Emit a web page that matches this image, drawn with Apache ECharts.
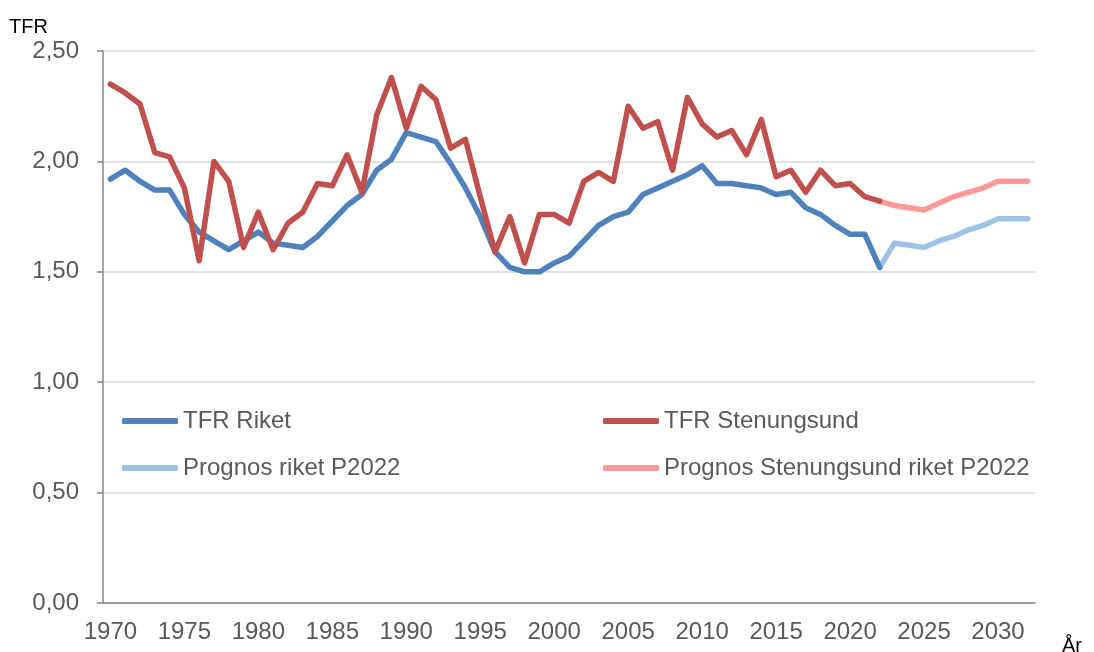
<!DOCTYPE html>
<html>
<head>
<meta charset="utf-8">
<title>TFR</title>
<script src="https://cdn.jsdelivr.net/npm/echarts@6/dist/echarts.min.js"></script>
<style>
  html, body { margin: 0; padding: 0; background: #fff; }
  #chart { width: 1094px; height: 652px; }
</style>
</head>
<body>
<div id="chart"></div>
<script>
const years = []
for (let y = 1970; y <= 2032; y++) years.push(String(y))

// 1970 - 2022
const riket = [
  1.92, 1.96, 1.91, 1.87, 1.87, 1.76, 1.68, 1.64, 1.60, 1.64,
  1.68, 1.63, 1.62, 1.61, 1.66, 1.73, 1.80, 1.85, 1.96, 2.01,
  2.13, 2.11, 2.09, 1.99, 1.88, 1.75, 1.59, 1.52, 1.50, 1.50,
  1.54, 1.57, 1.64, 1.71, 1.75, 1.77, 1.85, 1.88, 1.91, 1.94,
  1.98, 1.90, 1.90, 1.89, 1.88, 1.85, 1.86, 1.79, 1.76, 1.71,
  1.67, 1.67, 1.52
]
const stenungsund = [
  2.35, 2.31, 2.26, 2.04, 2.02, 1.88, 1.55, 2.00, 1.91, 1.61,
  1.77, 1.60, 1.72, 1.77, 1.90, 1.89, 2.03, 1.86, 2.21, 2.38,
  2.15, 2.34, 2.28, 2.06, 2.10, 1.84, 1.59, 1.75, 1.54, 1.76,
  1.76, 1.72, 1.91, 1.95, 1.91, 2.25, 2.15, 2.18, 1.96, 2.29,
  2.17, 2.11, 2.14, 2.03, 2.19, 1.93, 1.96, 1.86, 1.96, 1.89,
  1.90, 1.84, 1.82
]
// 2022 - 2032
const prognosRiket = [1.52, 1.63, 1.62, 1.61, 1.64, 1.66, 1.69, 1.71, 1.74, 1.74, 1.74]
const prognosStenungsund = [1.82, 1.80, 1.79, 1.78, 1.81, 1.84, 1.86, 1.88, 1.91, 1.91, 1.91]

const yTicks = [0, 0.5, 1, 1.5, 2, 2.5]

const pad = (arr, before, total) => {
  const out = new Array(before).fill(null).concat(arr)
  while (out.length < total) out.push(null)
  return out
}

const n = years.length
const series = [
  {name: 'TFR Riket', color: '#4F81BD', data: pad(riket, 0, n)},
  {name: 'TFR Stenungsund', color: '#C0504D', data: pad(stenungsund, 0, n)},
  {name: 'Prognos riket P2022', color: '#9DC3E6', data: pad(prognosRiket, 52, n)},
  {name: 'Prognos Stenungsund riket P2022', color: '#FF9999', data: pad(prognosStenungsund, 52, n)}
].map(s => ({
  name: s.name,
  type: 'line',
  data: s.data,
  symbol: 'none',
  color: s.color,
  lineStyle: {width: 5.5, color: s.color, cap: 'round', join: 'round'},
  z: s.name.startsWith('Prognos') ? 2 : 3
}))

const font = '"Liberation Sans", Arial, sans-serif'
const legendBase = {
  orient: 'vertical',
  top: 404,
  itemWidth: 56,
  itemHeight: 6,
  itemGap: 23,
  icon: 'roundRect',
  textStyle: {fontFamily: font, fontSize: 24, color: '#595959', lineHeight: 24}
}

const chart = echarts.init(document.getElementById('chart'))
chart.setOption({
  animation: false,
  textStyle: {fontFamily: font},
  grid: {left: 103, right: 59, top: 51, bottom: 49, containLabel: false},
  legend: [
    Object.assign({}, legendBase, {left: 117, data: ['TFR Riket', 'Prognos riket P2022']}),
    Object.assign({}, legendBase, {left: 598, data: ['TFR Stenungsund', 'Prognos Stenungsund riket P2022']})
  ],
  graphic: [
    {type: 'text', left: 9, top: 17, style: {text: 'TFR', fontFamily: font, fontSize: 20, fill: '#000'}},
    {type: 'text', left: 1062, top: 636, style: {text: 'År', fontFamily: font, fontSize: 20, fill: '#000'}}
  ],
  xAxis: {
    type: 'category',
    data: years,
    boundaryGap: true,
    axisLine: {lineStyle: {color: '#868686', width: 1.5}},
    axisTick: {interval: 4, length: 6, lineStyle: {color: '#868686', width: 1.5}},
    axisLabel: {interval: 4, fontSize: 24, color: '#595959', margin: 17, fontFamily: font},
    splitLine: {show: false}
  },
  yAxis: {
    type: 'value',
    min: yTicks[0],
    max: yTicks[yTicks.length - 1],
    interval: 0.5,
    axisLine: {show: true, lineStyle: {color: '#868686', width: 1.5}},
    axisTick: {show: true, length: 6, lineStyle: {color: '#868686', width: 1.5}},
    axisLabel: {
      fontSize: 24, color: '#595959', margin: 24, fontFamily: font,
      formatter: v => v.toFixed(2).replace('.', ',')
    },
    splitLine: {lineStyle: {color: '#D9D9D9', width: 1.5}}
  },
  series
})
</script>
</body>
</html>
